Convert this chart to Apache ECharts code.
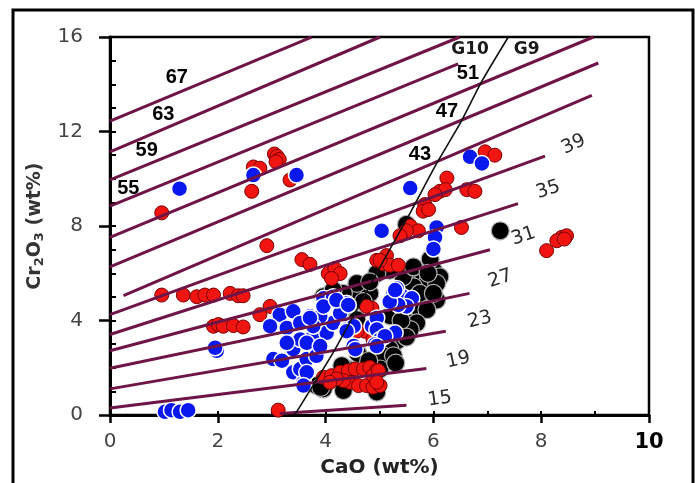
<!DOCTYPE html>
<html>
<head>
<meta charset="utf-8">
<script src="https://cdn.jsdelivr.net/npm/echarts@6/dist/echarts.min.js"></script>
<style>
  html, body { margin: 0; padding: 0; background: #fff; }
  #chart { width: 695px; height: 483px; }
</style>
</head>
<body>
<div id="chart"></div>
<script>
// CaO vs Cr2O3 garnet plot
const xTicks = [0, 2, 4, 6, 8, 10];
const yTicks = [0, 4, 8, 12, 16];

const blackPts = [
  [7.24, 7.8], [5.5, 8.07], [5.75, 5.99], [6.0, 6.13], [5.88, 5.57], [6.12, 5.85], [5.5, 5.71],
  [5.63, 5.43], [5.94, 6.6], [6.06, 5.57], [6.06, 4.87], [5.75, 4.46], [5.57, 3.9], [5.32, 3.13],
  [5.19, 2.79], [5.07, 2.51], [5.75, 5.15], [5.44, 5.85], [5.19, 6.13], [4.95, 5.99], [5.63, 6.27],
  [6.0, 5.15], [5.88, 4.46], [5.69, 3.9], [5.57, 3.62], [5.26, 2.51], [5.01, 1.95], [4.95, 0.97],
  [4.58, 5.22], [3.96, 5.01], [4.82, 5.15], [4.39, 1.95], [3.96, 1.11], [3.83, 1.25], [4.3, 2.09],
  [4.33, 1.04], [4.42, 4.25], [4.58, 4.04], [4.58, 5.57], [4.82, 5.64], [4.33, 5.15], [4.14, 5.29],
  [3.91, 1.17], [5.2, 4.2], [5.4, 4.0], [5.5, 3.3], [4.7, 4.8], [4.6, 2.6], [4.8, 2.3], [5.9, 6.0],
  [5.3, 2.2]
];

const redPts = [
  [0.96, 8.56], [3.05, 11.05], [3.1, 10.95], [3.14, 10.82], [3.08, 10.72], [2.66, 10.5], [2.78, 10.45],
  [2.63, 9.47], [3.34, 9.95], [2.91, 7.17], [3.56, 6.58], [3.71, 6.38],
  [0.96, 5.08], [1.36, 5.08], [1.61, 5.01], [1.76, 5.08], [1.92, 5.08], [2.23, 5.15], [2.38, 5.05], [2.47, 5.05],
  [2.97, 4.6], [2.78, 4.25], [1.92, 3.76], [2.01, 3.83], [2.1, 3.76], [2.29, 3.79], [2.47, 3.73],
  [3.12, 0.21], [4.05, 5.99], [4.17, 6.2], [4.27, 5.99], [4.11, 5.78], [4.95, 6.55],
  [6.25, 10.03], [6.12, 9.47], [6.22, 9.54], [6.03, 9.33], [6.62, 9.54], [6.77, 9.47],
  [5.84, 8.91], [5.81, 8.63], [5.91, 8.7], [5.57, 8.0], [5.72, 7.8], [5.5, 7.8], [5.38, 7.59], [6.52, 7.94],
  [5.13, 6.75], [5.07, 6.4], [5.19, 6.34], [5.35, 6.34], [5.01, 6.55],
  [8.38, 7.52], [8.47, 7.59], [8.29, 7.38], [8.1, 6.96], [8.43, 7.45], [6.96, 11.14], [7.14, 11.0],
  [3.96, 1.6], [4.11, 1.67], [4.27, 1.81], [4.42, 1.88], [4.55, 1.95], [4.7, 1.95], [4.82, 2.02], [4.95, 1.88],
  [4.45, 1.39], [4.61, 1.25], [4.76, 1.25], [4.88, 1.18], [5.01, 1.25], [4.33, 1.46], [4.2, 1.53], [4.08, 1.39],
  [4.88, 1.67], [4.98, 1.88], [4.95, 1.39], [4.86, 4.52], [4.76, 4.6], [4.73, 3.55], [4.88, 3.2], [4.58, 3.55]
];

const bluePts = [
  [1.29, 9.58], [2.66, 10.16], [3.46, 10.16], [6.68, 10.93], [6.9, 10.65], [5.57, 9.61], [5.04, 7.8],
  [6.06, 7.94], [6.03, 7.52], [6.0, 7.03], [1.98, 2.72], [1.95, 2.85],
  [1.02, 0.14], [1.14, 0.21], [1.3, 0.14], [1.45, 0.21],
  [3.15, 4.25], [3.4, 4.39], [3.71, 4.18], [3.96, 4.94], [4.14, 5.01], [4.39, 4.73], [2.97, 3.76], [3.28, 3.69],
  [3.03, 2.37], [3.19, 2.3], [3.4, 1.81], [3.59, 1.39], [3.53, 1.95], [3.65, 2.37], [3.83, 2.51], [3.4, 2.79],
  [3.53, 3.2], [3.77, 3.34], [4.02, 3.48], [4.14, 3.9], [4.39, 3.62], [4.52, 2.92], [4.27, 4.32], [3.9, 4.18],
  [3.77, 3.76], [3.53, 3.9], [3.28, 3.06], [3.65, 3.06], [3.9, 2.92], [3.71, 4.11], [3.96, 4.6], [4.2, 4.87],
  [4.42, 4.66], [4.52, 3.76], [4.39, 3.55], [4.55, 2.79], [4.86, 3.76], [4.95, 4.11], [3.65, 1.81], [3.59, 1.25],
  [5.26, 5.15], [5.44, 5.01], [5.6, 4.94], [5.5, 4.6], [5.35, 4.66], [4.95, 3.62], [5.01, 3.2], [5.29, 3.48],
  [4.92, 2.99], [5.1, 3.34], [5.32, 5.36], [5.19, 4.8], [4.95, 2.92], [5.29, 5.29]
];

// isopleth lines: [x0, y0, x1, y1]
const isoValues = [67, 63, 59, 55, 51, 47, 43, 39, 35, 31, 27, 23, 19, 15];
const isoLines = [
  [0, 12.44, 3.74, 15.99], [0, 11.14, 5.01, 16], [0, 9.95, 6.49, 16], [0, 8.84, 6.46, 14.86],
  [0, 7.52, 8.97, 16], [0, 6.27, 9.06, 14.9], [0.25, 5.06, 8.94, 13.53], [0, 4.25, 8.07, 10.96],
  [0, 3.41, 7.57, 8.95], [0, 2.72, 7.05, 7.0], [0, 1.98, 6.67, 5.15], [0, 1.11, 6.23, 3.55],
  [0, 0.3, 5.87, 1.97], [3.15, 0.07, 5.5, 0.42]
];
const isoLabelX = [1.24, 0.99, 0.68, 0.34, 6.64, 6.25, 5.75, 8.6, 8.13, 7.67, 7.24, 6.86, 6.46, 6.12];
const isoLabelY = [14.27, 12.74, 11.21, 9.61, 14.45, 12.84, 11.03, 11.45, 9.53, 7.57, 5.77, 4.03, 2.33, 0.68];
const isoLabelRot = [0, 0, 0, 0, 0, 0, 0, 25, 18, 18, 18, 14, 12, 8];

// G10 / G9 boundary
const boundX = [3.42, 3.46, 4.14, 5.01, 5.57, 6.06, 6.49, 6.9, 7.39];
const boundY = [0, 0.13, 2.64, 6.27, 8.56, 10.65, 12.32, 14.13, 16];
const fieldNames = ['G10', 'G9'];
const fieldX = [6.68, 7.73];
const fieldY = [15.46, 15.46];

const chart = echarts.init(document.getElementById('chart'));

const isoSeries = isoLines.map((l, i) => ({
  name: 'iso' + isoValues[i],
  type: 'line',
  data: [[l[0], l[1]], [l[2], l[3]]],
  showSymbol: false,
  symbol: 'none',
  silent: true,
  z: 5,
  lineStyle: { color: '#6e1446', width: 3 }
}));

const labelData = isoValues.map((v, i) => {
  const bold = isoLabelRot[i] === 0;
  return {
    value: [isoLabelX[i], isoLabelY[i]],
    name: String(v),
    label: bold
      ? { fontFamily: 'Liberation Sans', fontWeight: 'bold', fontSize: 20, color: '#000' }
      : { fontFamily: 'DejaVu Sans', fontWeight: 'normal', fontSize: 19, color: '#2a2a2a', rotate: isoLabelRot[i] }
  };
}).concat(fieldNames.map((n, i) => ({
  value: [fieldX[i], fieldY[i]],
  name: n,
  label: { fontFamily: 'DejaVu Sans', fontWeight: 'bold', fontSize: 17, color: '#1a1a1a' }
})));

const tickFont = { fontFamily: 'DejaVu Sans', fontSize: 20, color: '#444' };

const option = {
  backgroundColor: '#fff',
  animation: false,
  grid: { left: 110, right: 46, top: 37, bottom: 63, show: true, borderColor: '#000', borderWidth: 2.5 },
  xAxis: [
    {
      type: 'value', min: 0, max: 10, interval: 2, position: 'bottom',
      name: 'CaO (wt%)', nameLocation: 'middle', nameGap: 40,
      nameTextStyle: { fontFamily: 'DejaVu Sans', fontWeight: 'bold', fontSize: 20, color: '#222' },
      axisLine: { lineStyle: { color: '#000', width: 3 } },
      axisTick: { inside: false, length: 8, lineStyle: { color: '#000', width: 2.5 } },
      axisLabel: Object.assign({}, tickFont, {
        margin: 17,
        formatter: (v) => (v === 10 ? '{b|10}' : String(v)),
        rich: { b: { fontFamily: 'DejaVu Sans', fontWeight: 'bold', fontSize: 21, color: '#000' } }
      }),
      splitLine: { show: false }
    },
    {
      type: 'value', min: 0, max: 10, interval: 1, position: 'bottom',
      axisLine: { show: false },
      axisTick: { inside: true, length: 4, lineStyle: { color: '#000', width: 2 } },
      axisLabel: { show: false },
      splitLine: { show: false }
    }
  ],
  yAxis: [
    {
      type: 'value', min: 0, max: 16, interval: 4, position: 'left',
      name: 'Cr{s|2}O{s|3} (wt%)', nameLocation: 'middle', nameGap: 64, nameRotate: 90,
      nameTextStyle: {
        fontFamily: 'DejaVu Sans', fontWeight: 'bold', fontSize: 19, color: '#333',
        rich: { s: { fontFamily: 'DejaVu Sans', fontWeight: 'bold', fontSize: 13, color: '#333', padding: [9, 0, 0, 0] } }
      },
      axisLine: { lineStyle: { color: '#000', width: 3 } },
      axisTick: { inside: false, length: 11, lineStyle: { color: '#000', width: 2.5 } },
      axisLabel: Object.assign({}, tickFont, { margin: 27 }),
      splitLine: { show: false }
    },
    {
      type: 'value', min: 0, max: 16, interval: 1, position: 'left',
      axisLine: { show: false },
      axisTick: { inside: true, length: 6, lineStyle: { color: '#000', width: 2 } },
      axisLabel: { show: false },
      splitLine: { show: false }
    }
  ],
  graphic: [
    {
      type: 'rect', silent: true, z: 100,
      shape: { x: 13, y: 10, width: 680, height: 490 },
      style: { fill: null, stroke: '#000', lineWidth: 3 }
    }
  ],
  series: [
    {
      name: 'black', type: 'scatter', data: blackPts, symbolSize: 18, z: 2,
      itemStyle: { color: '#000', borderColor: '#b0b0b0', borderWidth: 1.2, opacity: 1 }
    },
    {
      name: 'red', type: 'scatter', data: redPts, symbolSize: 14, z: 3,
      itemStyle: { color: '#f01510', borderColor: '#7a0000', borderWidth: 1, opacity: 1 }
    },
    {
      name: 'blue', type: 'scatter', data: bluePts, symbolSize: 16, z: 4,
      itemStyle: { color: '#0a18f0', borderColor: '#ffffff', borderWidth: 1.5, opacity: 1 }
    }
  ].concat(isoSeries).concat([
    {
      name: 'boundary', type: 'line', smooth: 0.2, showSymbol: false, symbol: 'none', z: 6,
      data: boundX.map((x, i) => [x, boundY[i]]),
      lineStyle: { color: '#111', width: 1.6 }
    },
    {
      name: 'labels', type: 'scatter', symbolSize: 0, z: 7, silent: true,
      itemStyle: { opacity: 1 },
      data: labelData,
      label: {
        show: true, position: 'inside', formatter: (p) => p.name,
        textBorderWidth: 0, textShadowBlur: 0
      }
    }
  ])
};

chart.setOption(option);
</script>
</body>
</html>
